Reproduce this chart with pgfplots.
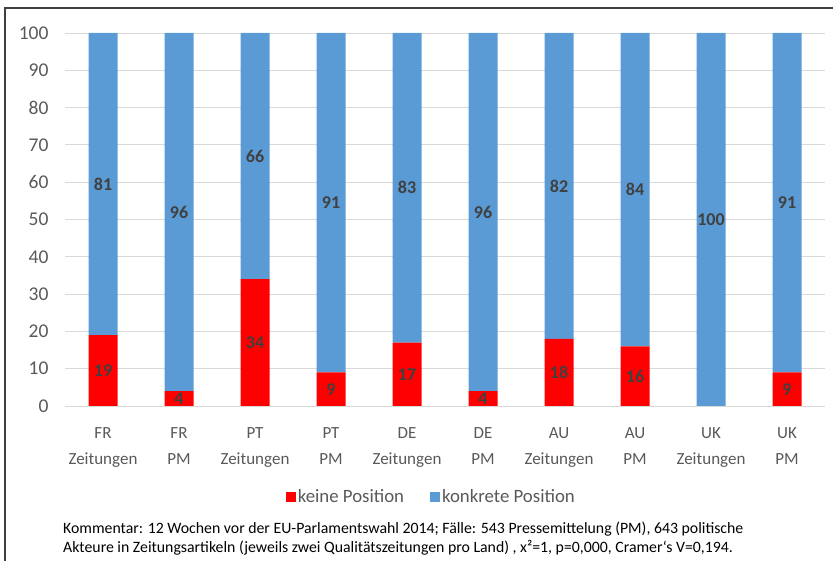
\documentclass[border=0pt]{standalone}
\usepackage{pgfplots}
\usepackage{pgfplotstable}
\pgfplotsset{compat=1.18}
\usepackage{fontspec}
\setmainfont{Carlito}
\definecolor{cred}{HTML}{FF0000}
\definecolor{cblue}{HTML}{5B9BD5}
\definecolor{tgray}{HTML}{595959}
\definecolor{lgray}{HTML}{D9D9D9}
\definecolor{lblgray}{HTML}{404040}
\definecolor{frame}{HTML}{404040}

\pgfplotstableread{
x keine konkrete
0 19 81
1 4 96
2 34 66
3 9 91
4 17 83
5 4 96
6 18 82
7 16 84
8 0 100
9 9 91
}\datatab

\pgfplotstableread{
x y lbl
0 9.5 19
1 2 4
2 17 34
3 4.5 9
4 8.5 17
5 2 4
6 9 18
7 8 16
9 4.5 9
0 59.5 81
1 52 96
2 67 66
3 54.5 91
4 58.5 83
5 52 96
6 59 82
7 58 84
8 50 100
9 54.5 91
}\lbltab

\pgfplotsset{base/.style={
  scale only axis, width=760bp, height=373bp,
  at={(65bp,155bp)}, anchor=south west,
  xmin=-0.5, xmax=9.5, ymin=0, ymax=100,
}}

\begin{document}
\begin{tikzpicture}
\useasboundingbox (0,0) rectangle (833bp,561bp);
\draw[frame, line width=1.3bp] (5bp,0) -- (5bp,553bp) -- (833bp,553bp);
\begin{axis}[base,
  ybar stacked, bar width=29bp,
  axis x line*=bottom, axis y line*=left,
  y axis line style={draw=none},
  x axis line style={lgray, line width=0.8bp},
  ymajorgrids, grid style={lgray, line width=0.8bp},
  ytick={0,10,...,100},
  ytick style={draw=none},
  /pgf/number format/assume math mode=true,
  yticklabel style={anchor=east, xshift=-13bp, font=\fontsize{19.5bp}{22bp}\selectfont, text=tgray},
  xtick={0,...,9},
  xticklabels={{FR\\[6bp]Zeitungen},{FR\\[6bp]PM},{PT\\[6bp]Zeitungen},{PT\\[6bp]PM},{DE\\[6bp]Zeitungen},{DE\\[6bp]PM},{AU\\[6bp]Zeitungen},{AU\\[6bp]PM},{UK\\[6bp]Zeitungen},{UK\\[6bp]PM}},
  xticklabel style={anchor=north, yshift=-18bp, align=center, font=\fontsize{17bp}{20bp}\selectfont, text=tgray},
  xtick style={draw=none},
  extra x ticks={-0.5,0.5,...,9.5},
  extra x tick labels={},
  extra x tick style={grid=none, tick align=outside, major tick length=64bp, tick style={draw=lgray, line width=0.8bp}},
  legend style={at={(0.482,-0.244)}, anchor=center, legend columns=2, draw=none, fill=none,
    font=\fontsize{18.8bp}{21bp}\selectfont, text=tgray,
    /tikz/every even column/.append style={column sep=24bp}},
  legend image code/.code={\fill[#1,draw=none] (-2bp,-5bp) rectangle (8bp,5bp);},
]
\addplot[fill=cred, draw=none] table[x=x, y=keine] {\datatab};
\addplot[fill=cblue, draw=none] table[x=x, y=konkrete] {\datatab};
\legend{keine Position, konkrete Position}
\end{axis}
\begin{axis}[base, hide axis]
\addplot[draw=none, mark=none, nodes near coords, point meta=explicit symbolic,
  every node near coord/.style={anchor=center, font=\fontsize{18bp}{21bp}\selectfont\bfseries, text=lblgray}]
  table[x=x, y=y, meta=lbl] {\lbltab};
\end{axis}
\node[anchor=base west, inner sep=0, text=black, font=\fontsize{15.8bp}{18bp}\selectfont] at (63bp,28bp) {Kommentar: 12 Wochen vor der EU-Parlamentswahl 2014; Fälle: 543 Pressemittelung (PM), 643 politische};
\node[anchor=base west, inner sep=0, text=black, font=\fontsize{15.8bp}{18bp}\selectfont] at (63bp,9bp) {Akteure in Zeitungsartikeln (jeweils zwei Qualitätszeitungen pro Land) , x²=1, p=0,000, Cramer‘s V=0,194.};
\end{tikzpicture}
\end{document}
